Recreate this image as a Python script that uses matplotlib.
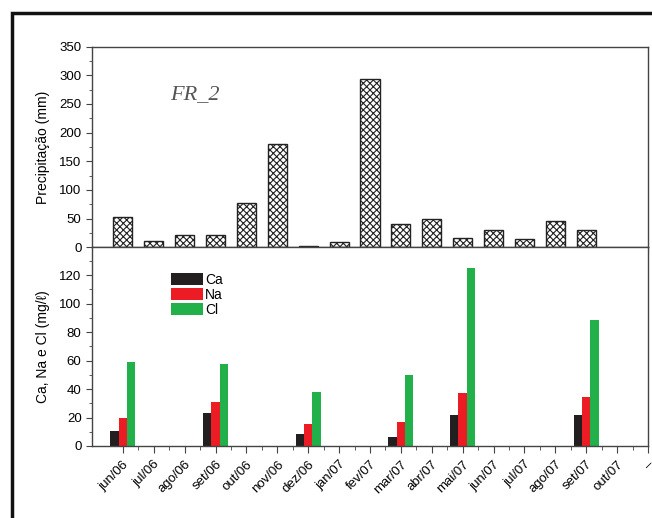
import matplotlib
matplotlib.use("Agg")
import matplotlib.pyplot as plt
import numpy as np
from matplotlib.patches import Rectangle

# ── Dados ────────────────────────────────────────────────────
meses = ["jun/06", "jul/06", "ago/06", "set/06", "out/06", "nov/06", "dez/06",
         "jan/07", "fev/07", "mar/07", "abr/07", "mai/07", "jun/07", "jul/07",
         "ago/07", "set/07", "out/07", "–"]
precip = [53, 11.5, 21.5, 21.5, 78, 180, 3, 10, 293, 40, 49, 16, 31, 14, 46, 31, 0, 0]

ca = [10.8, 0, 0, 23, 0, 0, 8.4, 0, 0, 6.6, 0, 22, 0, 0, 0, 22, 0, 0]
na = [19.7, 0, 0, 31, 0, 0, 15.7, 0, 0, 17.1, 0, 37.5, 0, 0, 0, 34.2, 0, 0]
cl = [59, 0, 0, 57.4, 0, 0, 38.2, 0, 0, 50.2, 0, 125, 0, 0, 0, 88.8, 0, 0]

plt.rcParams["font.family"] = ["Liberation Sans", "DejaVu Sans"]
plt.rcParams["hatch.linewidth"] = 0.8

W, H = 652, 518
fig = plt.figure(figsize=(W / 100, H / 100), dpi=100)

def ax_rect(x0, y0, x1, y1):
    return [x0 / W, 1 - y1 / H, (x1 - x0) / W, (y1 - y0) / H]

ax1 = fig.add_axes(ax_rect(92, 46.5, 648, 247.3))
ax2 = fig.add_axes(ax_rect(92, 247.3, 648, 446), sharex=ax1)

x = np.arange(len(meses))
frame = "#444444"

# ── Precipitação ─────────────────────────────────────────────
p = np.array(precip, dtype=float)
tem = p > 0
ax1.bar(x[tem], p[tem], width=0.62, facecolor="white", edgecolor="#222222",
        hatch="xxxxx", linewidth=1.0)
ax1.set_ylim(0, 350)
ax1.set_yticks(np.arange(0, 351, 50))
ax1.set_yticks(np.arange(25, 350, 50), minor=True)
ax1.set_ylabel("Precipitação (mm)", fontsize=10, labelpad=7)
ax1.text(0.14, 0.74, "FR_2", transform=ax1.transAxes, fontsize=16,
         style="italic", family="Liberation Serif", color="#555555")
ax1.tick_params(axis="x", which="both", direction="out", labelbottom=False)
ax1.tick_params(axis="x", which="major", length=5, color=frame)
ax1.tick_params(axis="x", which="minor", length=3, color=frame)

# ── Ca, Na e Cl ──────────────────────────────────────────────
bw = 0.27
ax2.bar(x - bw, ca, width=bw, color="#231f20", label="Ca")
ax2.bar(x, na, width=bw, color="#ec1c24", label="Na")
ax2.bar(x + bw, cl, width=bw, color="#22b04b", label="Cl")
ax2.set_ylim(0, 139.6)
ax2.set_yticks(np.arange(0, 121, 20))
ax2.set_yticks(np.arange(10, 131, 20), minor=True)
ax2.set_ylabel("Ca, Na e Cl (mg/ℓ)", fontsize=10, labelpad=7)
ax2.legend(loc="upper left", bbox_to_anchor=(0.13, 0.905), frameon=False,
           fontsize=10, handlelength=2.3, handleheight=0.95,
           handletextpad=0.15, labelspacing=0.05, borderpad=0)

ax2.set_xlim(-1, 17)
ax2.set_xticks(x)
ax2.set_xticks(x[:-1] + 0.5, minor=True)
ax2.set_xticklabels(meses, rotation=45, ha="right", rotation_mode="anchor",
                    fontsize=9.5)
ax2.tick_params(axis="x", which="major", direction="out", length=5,
                color=frame, pad=4)
ax2.tick_params(axis="x", which="minor", direction="out", length=3,
                color=frame)

for ax in (ax1, ax2):
    ax.tick_params(axis="y", which="major", direction="out", length=4,
                   labelsize=9.5, color=frame)
    ax.tick_params(axis="y", which="minor", direction="out", length=2,
                   color=frame)
    for s in ax.spines.values():
        s.set_color(frame)
        s.set_linewidth(1.0)

# moldura externa
fig.patches.append(Rectangle((12 / W, -0.1), 1.2, 1 - 13 / H + 0.1,
                             transform=fig.transFigure, fill=False,
                             edgecolor="#111111", linewidth=2.5))

fig.savefig("out.png", dpi=100)
